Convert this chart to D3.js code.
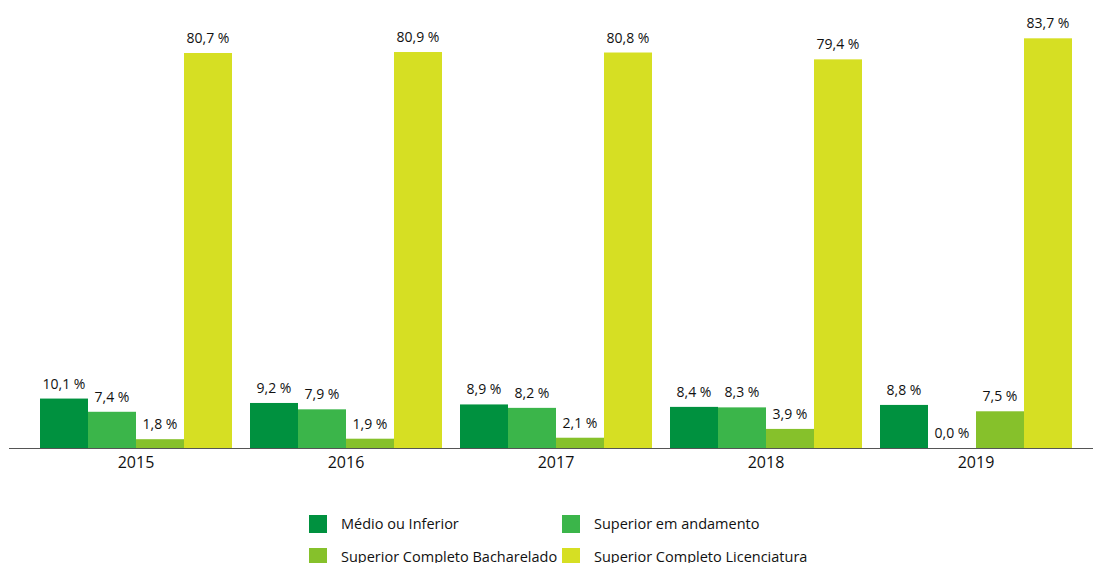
<!DOCTYPE html>
<html><head><meta charset="utf-8">
<script src="https://cdn.jsdelivr.net/npm/d3@7"></script>
<style>body{margin:0;background:#fff}svg{display:block}text{font-family:"Open Sans",sans-serif;fill:#111}</style>
</head><body><svg id="c" width="1093" height="563"></svg>
<script>
const years = ["2015","2016","2017","2018","2019"];
const seriesNames = ["Médio ou Inferior","Superior em andamento","Superior Completo Bacharelado","Superior Completo Licenciatura"];
const medio = [10.1, 9.2, 8.9, 8.4, 8.8];
const andamento = [7.4, 7.9, 8.2, 8.3, 0.0];
const bacharelado = [1.8, 1.9, 2.1, 3.9, 7.5];
const licenciatura = [80.7, 80.9, 80.8, 79.4, 83.7];
const colors = ["#00913F","#3BB54A","#86C12B","#D6DF23"];
const seriesValues = [medio, andamento, bacharelado, licenciatura];

const svg = d3.select("#c");
const baseY = 448;
const x0 = d3.scaleBand().domain(years).range([31, 1081]).paddingInner(18/210).paddingOuter(9/210);
const x1 = d3.scaleBand().domain(d3.range(4)).range([0, x0.bandwidth()]);
const y = d3.scaleLinear().domain([0, 80.7]).range([baseY, 53]);

const fmt = v => v.toFixed(1).replace(".", ",") + " %";

years.forEach((yr, i) => {
  const g = svg.append("g").attr("transform", `translate(${x0(yr)},0)`);
  seriesValues.forEach((vals, s) => {
    const v = vals[i];
    g.append("rect").attr("x", x1(s)).attr("width", x1.bandwidth())
      .attr("y", y(v)).attr("height", baseY - y(v)).attr("fill", colors[s]);
    g.append("text").attr("x", x1(s) + x1.bandwidth()/2).attr("y", y(v) - 10)
      .attr("text-anchor", "middle").attr("font-size", 14).text(fmt(v));
  });
});

svg.append("line").attr("x1", 9).attr("x2", 1093).attr("y1", baseY + 0.5).attr("y2", baseY + 0.5)
  .attr("stroke", "#555").attr("stroke-width", 1);

const xAxis = d3.axisBottom(x0).tickSize(0).tickPadding(9);
const ax = svg.append("g").attr("transform", `translate(0,${baseY})`).call(xAxis);
ax.select(".domain").remove();
ax.selectAll("text").attr("font-size", 16).style("font-family", '"Open Sans",sans-serif').attr("fill", "#111");

const legendPos = [[309, 515], [562, 515], [309, 548], [562, 548]];
seriesNames.forEach((n, s) => {
  const [lx, ly] = legendPos[s];
  svg.append("rect").attr("x", lx).attr("y", ly).attr("width", 18).attr("height", 18).attr("fill", colors[s]);
  svg.append("text").attr("x", lx + 32).attr("y", ly + 14).attr("font-size", 14.5).text(n);
});
</script></body></html>
